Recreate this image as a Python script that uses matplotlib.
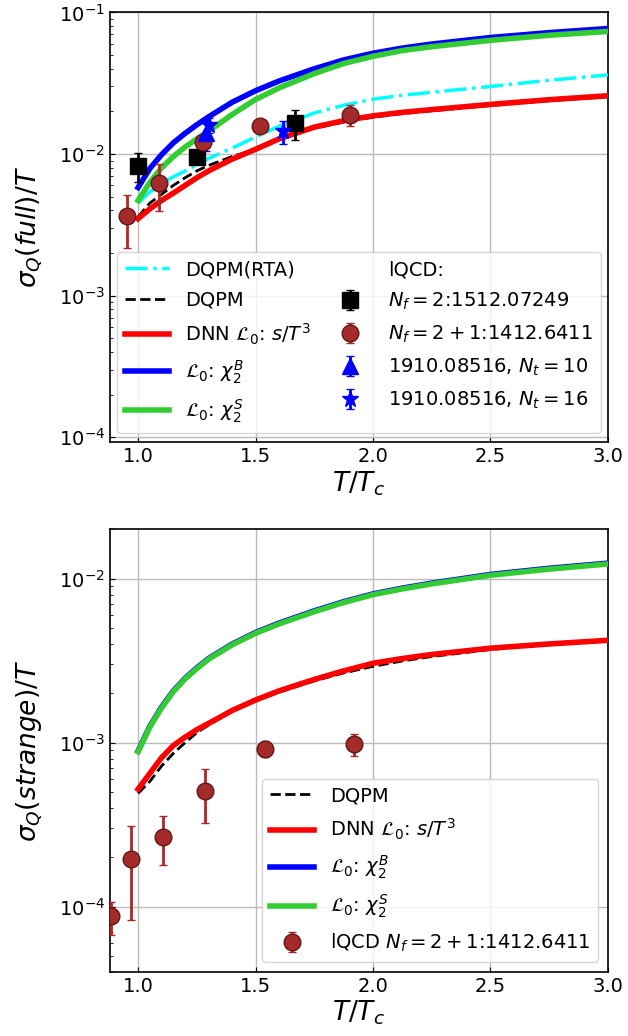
import matplotlib
matplotlib.use('Agg')
import matplotlib.pyplot as plt

# ---- top panel: sigma_Q(full)/T ----
T_curve = [1.0, 1.05, 1.1, 1.15, 1.2, 1.25, 1.3, 1.4, 1.5, 1.6, 1.75, 1.875, 2.0, 2.125,
           2.25, 2.5, 2.75, 3.0]

full_rta = [0.0045, 0.0054, 0.0062, 0.0069, 0.0076, 0.0084, 0.0093, 0.0110, 0.0132, 0.0157,
            0.0195, 0.0221, 0.0244, 0.0260, 0.0273, 0.0300, 0.0332, 0.0362]
full_dqpm = [0.0036, 0.0045, 0.0052, 0.0060, 0.0068, 0.0076, 0.0083, 0.0096, 0.0108, 0.0126,
             0.0152, 0.0168, 0.0182, 0.0193, 0.0202, 0.0220, 0.0238, 0.0254]
full_dnn = [0.0035, 0.0041, 0.0047, 0.0053, 0.0060, 0.0068, 0.0076, 0.0092, 0.0108, 0.0128,
            0.0155, 0.0172, 0.0186, 0.0197, 0.0206, 0.0224, 0.0242, 0.0258]
full_chiB = [0.0058, 0.0079, 0.0099, 0.0120, 0.0140, 0.0161, 0.0183, 0.0232, 0.0280, 0.0328,
             0.0400, 0.0462, 0.0515, 0.0560, 0.0598, 0.0665, 0.0720, 0.0770]
full_chiS = [0.0047, 0.0063, 0.0080, 0.0096, 0.0112, 0.0128, 0.0145, 0.0190, 0.0243, 0.0293,
             0.0370, 0.0436, 0.0490, 0.0538, 0.0573, 0.0635, 0.0690, 0.0734]

# lattice data (top)
nf2_T = [1.0, 1.25, 1.67]
nf2_y = [0.0082, 0.0095, 0.0165]
nf2_err = [0.0019, 0.0006, 0.0040]

nf21_T = [0.952, 1.089, 1.275, 1.52, 1.90]
nf21_y = [0.00366, 0.00625, 0.0122, 0.0157, 0.0190]
nf21_err = [0.0015, 0.0023, 0.0010, 0.0012, 0.0032]

nt10_T = [1.29]
nt10_y = [0.0140]
nt10_err = [0.0035]

nt16_T = [1.30, 1.616]
nt16_y = [0.0160, 0.0145]
nt16_err = [0.0020, 0.0027]

# ---- bottom panel: sigma_Q(strange)/T ----
str_dqpm = [0.00049, 0.00058, 0.00072, 0.00086, 0.00100, 0.00115, 0.00128, 0.00155, 0.00180,
            0.00203, 0.00238, 0.00266, 0.00292, 0.00315, 0.00335, 0.00370, 0.00397, 0.00418]
str_dnn = [0.00052, 0.00065, 0.00081, 0.00096, 0.00108, 0.00120, 0.00131, 0.00157, 0.00182,
           0.00207, 0.00243, 0.00274, 0.00305, 0.00326, 0.00345, 0.00377, 0.00400, 0.00421]
str_chiB = [0.00089, 0.00126, 0.00165, 0.00207, 0.00247, 0.00286, 0.00326, 0.00399, 0.00470,
            0.00536, 0.00637, 0.00724, 0.00808, 0.00876, 0.00940, 0.01062, 0.01158, 0.01244]
str_chiS = [0.00088, 0.00125, 0.00163, 0.00205, 0.00245, 0.00283, 0.00323, 0.00395, 0.00465,
            0.00530, 0.00630, 0.00716, 0.00800, 0.00867, 0.00930, 0.01050, 0.01145, 0.01230]

str_lat_T = [0.885, 0.97, 1.105, 1.285, 1.54, 1.92]
str_lat_y = [8.7e-5, 1.96e-4, 2.67e-4, 5.1e-4, 9.2e-4, 9.8e-4]
str_lat_err = [2.0e-5, 1.13e-4, 0.88e-4, 1.85e-4, 1.0e-4, 1.5e-4]

xticks = [1.0, 1.5, 2.0, 2.5, 3.0]

brown = '#a52a2a'
brown_edge = '#5e1818'
green = '#33cc33'

fig = plt.figure(figsize=(6.28, 10.36), dpi=100)
ax1 = fig.add_axes([0.175, 0.573, 0.793, 0.415])
ax2 = fig.add_axes([0.175, 0.062, 0.793, 0.427])

# top
ax1.plot(T_curve, full_rta, color='cyan', ls='-.', lw=2.5, label='DQPM(RTA)', zorder=3)
ax1.plot(T_curve, full_dqpm, color='black', ls='--', lw=2, label='DQPM', zorder=3)
ax1.plot(T_curve, full_dnn, color='red', lw=4, label=r'DNN $\mathcal{L}_0$: $s/T^3$', zorder=3)
ax1.plot(T_curve, full_chiB, color='blue', lw=4, label=r'$\mathcal{L}_0$: $\chi_2^B$', zorder=3)
ax1.plot(T_curve, full_chiS, color=green, lw=4, label=r'$\mathcal{L}_0$: $\chi_2^S$', zorder=3)
ax1.plot([], [], ' ', label='lQCD:')
ax1.errorbar(nf2_T, nf2_y, yerr=nf2_err, fmt='s', color='black', ms=11, capsize=3,
             elinewidth=2, label=r'$N_f = 2$:1512.07249', zorder=4)
ax1.errorbar(nf21_T, nf21_y, yerr=nf21_err, fmt='o', color=brown, mec=brown_edge, ms=12,
             capsize=3, elinewidth=2, label=r'$N_f = 2+1$:1412.6411', zorder=4)
ax1.errorbar(nt10_T, nt10_y, yerr=nt10_err, fmt='^', color='blue', ms=11, capsize=3,
             elinewidth=2, label=r'1910.08516, $N_t = 10$', zorder=4)
ax1.errorbar(nt16_T, nt16_y, yerr=nt16_err, fmt='*', color='blue', ms=12, capsize=3,
             elinewidth=2, label=r'1910.08516, $N_t = 16$', zorder=4)

ax1.set_yscale('log')
ax1.set_xlim(0.88, 3.0)
ax1.set_ylim(9.2e-5, 1e-1)
ax1.set_ylabel(r'$\sigma_Q(full)/T$', fontsize=19, labelpad=10)
ax1.set_xlabel(r'$T/T_c$', fontsize=19, labelpad=2)
ax1.legend(loc='lower center', ncol=2, fontsize=14, handlelength=2.3, columnspacing=0.9,
           labelspacing=0.6)

# bottom
ax2.plot(T_curve, str_dqpm, color='black', ls='--', lw=2, label='DQPM', zorder=3)
ax2.plot(T_curve, str_dnn, color='red', lw=4, label=r'DNN $\mathcal{L}_0$: $s/T^3$', zorder=3)
ax2.plot(T_curve, str_chiB, color='blue', lw=4, label=r'$\mathcal{L}_0$: $\chi_2^B$', zorder=3)
ax2.plot(T_curve, str_chiS, color=green, lw=4, label=r'$\mathcal{L}_0$: $\chi_2^S$', zorder=3)
ax2.errorbar(str_lat_T, str_lat_y, yerr=str_lat_err, fmt='o', color=brown, mec=brown_edge,
             ms=12, capsize=3, elinewidth=2, label=r'lQCD $N_f = 2+1$:1412.6411', zorder=4)

ax2.set_yscale('log')
ax2.set_xlim(0.88, 3.0)
ax2.set_ylim(4.0e-5, 2.0e-2)
ax2.set_ylabel(r'$\sigma_Q(strange)/T$', fontsize=19, labelpad=10)
ax2.set_xlabel(r'$T/T_c$', fontsize=19, labelpad=2)
ax2.legend(loc='lower right', fontsize=14, handlelength=2.3, labelspacing=0.6)

for ax in (ax1, ax2):
    ax.set_xticks(xticks)
    ax.grid(True, which='major', color='#bbbbbb', lw=1)
    ax.set_axisbelow(True)
    ax.tick_params(direction='in', which='both', labelsize=14)
    for s in ax.spines.values():
        s.set_linewidth(1.2)

fig.savefig('out.png', dpi=100)
